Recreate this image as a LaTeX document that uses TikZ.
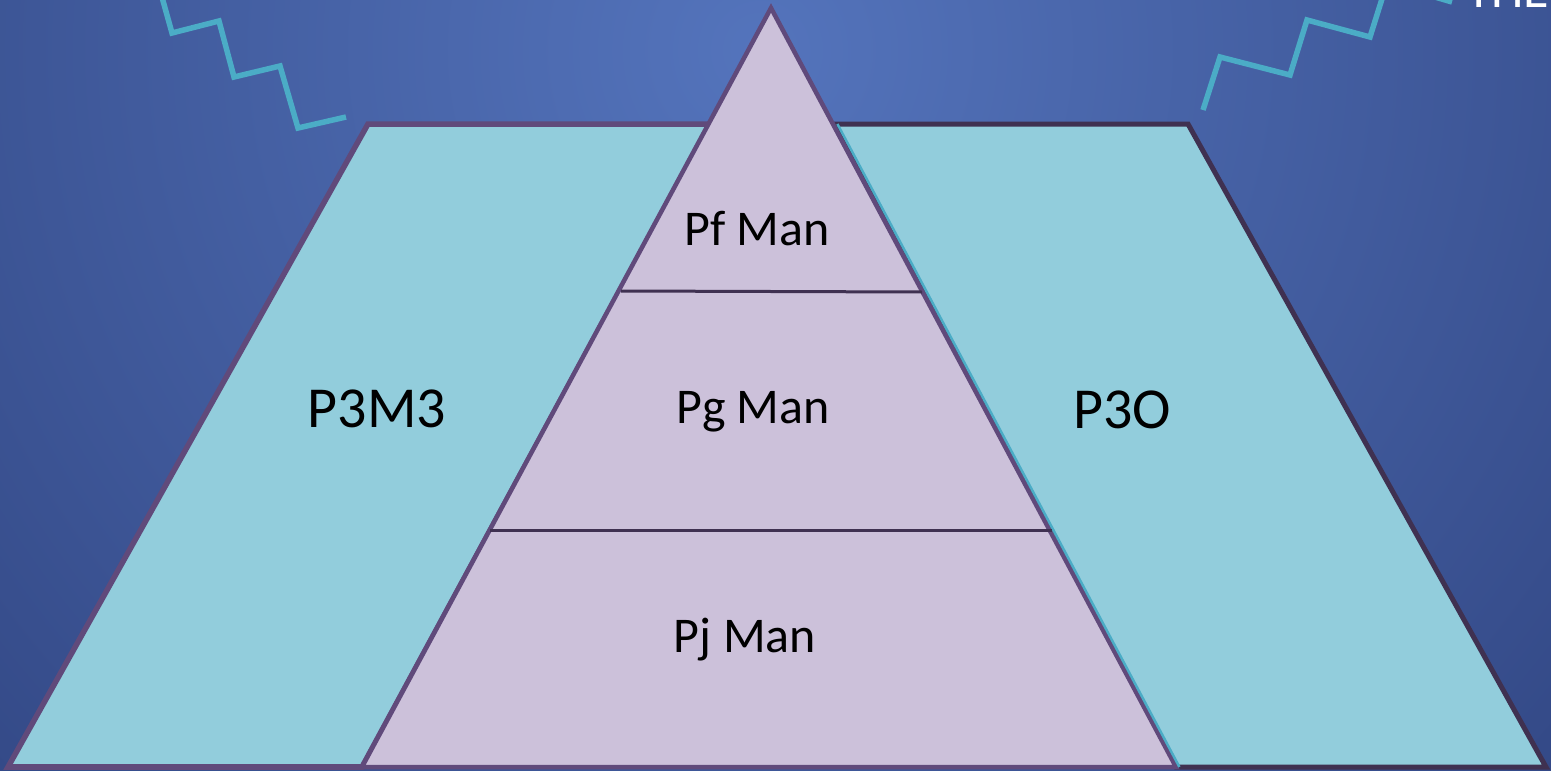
\documentclass[tikz,border=0pt]{standalone}
\usepackage{fontspec}
\setmainfont{Carlito}
\definecolor{bgin}{RGB}{84,116,188}
\definecolor{bgout}{RGB}{40,58,116}
\definecolor{tealfill}{RGB}{146,205,220}
\definecolor{lilac}{RGB}{204,193,218}
\definecolor{purp}{RGB}{96,74,123}
\definecolor{darkp}{RGB}{63,49,81}
\definecolor{zig}{RGB}{75,172,198}
\tikzset{
  sidebox/.style={fill=tealfill, line join=miter},
  pyr/.style={fill=lilac, draw=purp, line width=4.5pt, line join=miter},
  divider/.style={draw=darkp, line width=3pt},
  zigzag/.style={draw=zig, line width=5.5pt, line join=miter},
  bigtxt/.style={font=\fontsize{58}{60}\selectfont, text=black, anchor=base, inner sep=0pt},
  midtxt/.style={font=\fontsize{50}{52}\selectfont, text=black, anchor=base, inner sep=0pt}
}
\begin{document}
\begin{tikzpicture}[x=1pt,y=-1pt]
\useasboundingbox (0,0) rectangle (1551,771);
\begin{scope}
\clip (0,0) rectangle (1551,771);
\shade[inner color=bgin, outer color=bgout] (760,50) circle (1450);
% coordinates
\coordinate (apex) at (771,8);
\coordinate (tbl) at (362,767);
\coordinate (tbr) at (1176,767);
\coordinate (ltl) at (368,124);
\coordinate (ltr) at (710,124);
\coordinate (lbl) at (8,767);
\coordinate (rtl) at (834,124);
\coordinate (rtr) at (1188,124);
\coordinate (rbr) at (1546,767);
\coordinate (rbl) at (1176,767);
% left shape
\draw[sidebox, draw=purp, line width=5.5pt] (lbl) -- (ltl) -- (ltr) -- (tbl) -- cycle;
% right shape
\draw[sidebox, draw=darkp, line width=5pt] (rtl) -- (rtr) -- (rbr) -- (rbl) -- cycle;
% triangle
\draw[pyr] (apex) -- (tbr) -- (tbl) -- cycle;
\draw[draw=purp, line width=5.5pt] (lbl) -- (tbl);
% teal edge along right side of triangle
\draw[draw=zig, line width=2.5pt] ([shift={(3.4,0)}]rtl) -- ([shift={(3.4,0)}]rbl);
% dividers
\coordinate (d1l) at (621,291);
\coordinate (d1r) at (922,292);
\coordinate (d2l) at (490,530);
\coordinate (d2r) at (1052,530);
\draw[divider] (d1l) -- (d1r);
\draw[divider] (d2l) -- (d2r);
% zigzags
\draw[zigzag] (160,-10) -- (172,33) -- (219,21) -- (234,77) -- (280,66) -- (298,128) -- (346,117);
\draw[zigzag] (1203,110) -- (1220,57) -- (1290,75) -- (1307,20) -- (1370,37) -- (1387,-17) -- (1452,2);
% texts
\node[bigtxt] (p3m3) at (377,427) {P3M3};
\node[bigtxt] (p3o) at (1122,428) {P3O};
\node[midtxt] (pf) at (757,245) {Pf Man};
\node[midtxt] (pg) at (753,423) {Pg Man};
\node[midtxt] (pj) at (745,652) {Pj Man};
\node[font=\fontsize{52}{54}\selectfont, text=white, anchor=base west, inner sep=0pt] (the) at (1466,8) {THE};
\end{scope}
\end{tikzpicture}
\end{document}
